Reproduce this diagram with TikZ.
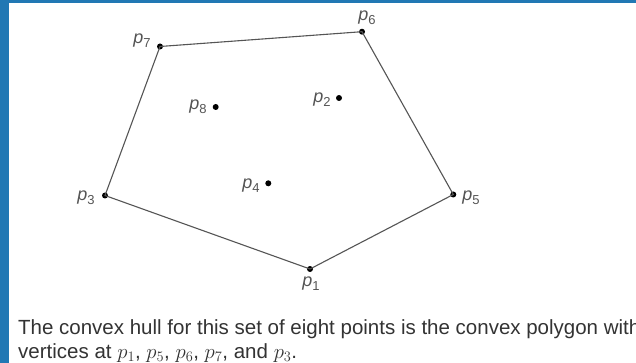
\documentclass[tikz,border=0pt]{standalone}
\usepackage{fontspec}
\setmainfont{Liberation Sans}
\definecolor{frameblue}{HTML}{2178B4}
\definecolor{edgegray}{HTML}{555555}
\definecolor{labelgray}{HTML}{555555}
\definecolor{captiongray}{HTML}{333333}
\newcommand{\plbl}[1]{\textit{p}\raisebox{-0.35ex}{\fontsize{13}{13}\selectfont #1}}
\begin{document}
\begin{tikzpicture}[x=1pt,y=-1pt,
  pt/.style={circle,fill=black,inner sep=0pt,minimum size=6pt},
  lbl/.style={text=labelgray,font=\fontsize{18}{18}\selectfont,inner sep=0pt},
  hull/.style={draw=edgegray,line width=1.1pt},
  caption/.style={text=captiongray,font=\fontsize{20.5}{20.5}\selectfont,anchor=base west,inner sep=0pt}]
\useasboundingbox (0,0) rectangle (636,363);
\fill[white] (0,0) rectangle (636,363);
% points
\node[pt] (p1) at (310,269) {};
\node[pt] (p2) at (339,98) {};
\node[pt] (p3) at (105,195.5) {};
\node[pt] (p4) at (268.3,183.3) {};
\node[pt] (p5) at (453.3,194.5) {};
\node[pt] (p6) at (362,31.7) {};
\node[pt] (p7) at (160,46.5) {};
\node[pt] (p8) at (215.7,107) {};
% hull
\draw[hull] (p1.center) -- (p5.center) -- (p6.center) -- (p7.center) -- (p3.center) -- cycle;
% labels
\node[lbl] (l1) at (311,284) {\plbl{1}};
\node[lbl] (l2) at (322,100) {\plbl{2}};
\node[lbl] (l3) at (86,198) {\plbl{3}};
\node[lbl] (l4) at (251,186) {\plbl{4}};
\node[lbl] (l5) at (471,198) {\plbl{5}};
\node[lbl] (l6) at (367,18) {\plbl{6}};
\node[lbl] (l7) at (142,41) {\plbl{7}};
\node[lbl] (l8) at (198,107) {\plbl{8}};
% caption
\node[caption] (c1) at (18,334) {The convex hull for this set of eight points is the convex polygon with};
\node[caption] (c2) at (18,358) {vertices at $p_1$, $p_5$, $p_6$, $p_7$, and $p_3$.};
% frame
\fill[frameblue] (0,0) rectangle (9,363);
\fill[frameblue] (0,0) rectangle (636,3);
\end{tikzpicture}
\end{document}
